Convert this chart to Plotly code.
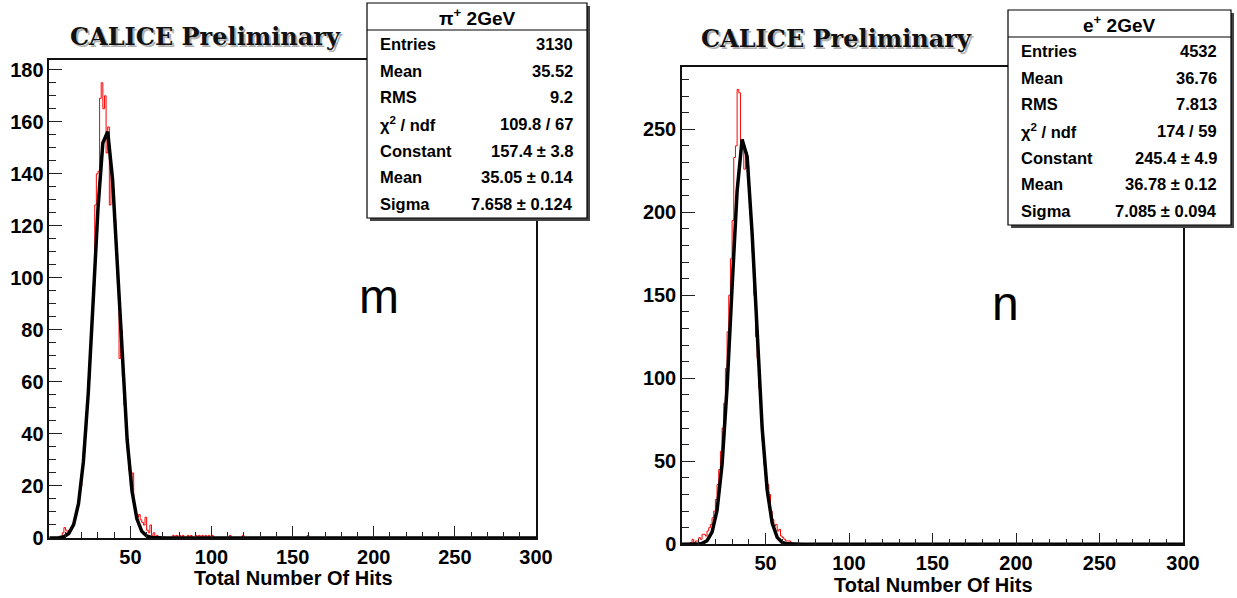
import numpy as np
import plotly.graph_objects as go

W, H = 1237, 598

# ---- histogram contents: total number of hits, 1-hit bins from 0 to 300 ----
N_BINS = 300
# pi+ 2 GeV: bin contents for bins 0..66
pion_core = [0, 0, 0, 0, 0, 0, 0, 0, 2, 4,
             3, 2, 3, 4, 5, 7, 9, 12, 16, 20,
             26, 33, 41, 50, 61, 72, 84, 97, 128, 140,
             141, 169, 175, 165, 170, 148, 158, 128, 142, 133,
             122, 110, 98, 69, 80, 62, 51, 42, 34, 26,
             20, 25, 12, 9, 8, 9, 7, 6, 5, 8,
             3, 2, 5, 1, 2, 0, 1]
# isolated single-entry bins in the pion tail
pion_tail_bins = [76, 78, 80, 82, 85, 87, 90, 92, 94, 96, 98, 100, 111, 119, 159]

# e+ 2 GeV: bin contents for bins 0..65
positron_core = [0, 0, 0, 0, 0, 1, 3, 1, 2, 2,
                 4, 3, 6, 6, 5, 8, 10, 12, 16, 20,
                 27, 36, 45, 56, 70, 85, 106, 128, 150, 172,
                 195, 233, 240, 274, 272, 240, 238, 226, 236, 228,
                 212, 196, 176, 150, 125, 112, 94, 77, 62, 48,
                 38, 36, 30, 20, 15, 11, 12, 8, 9, 5,
                 4, 3, 2, 2, 2, 1]

# Gaussian fit results (Constant, Mean, Sigma)
pion_fit = (157.4, 35.05, 7.658)
positron_fit = (245.4, 36.78, 7.085)

# statistics boxes
pion_title = "π<sup>+</sup> 2GeV"
pion_stats = [("Entries", "3130"), ("Mean", "35.52"), ("RMS", "9.2"),
              ("χ<sup>2</sup> / ndf", "109.8 / 67"), ("Constant", "157.4 ± 3.8"),
              ("Mean", "35.05 ± 0.14"), ("Sigma", "7.658 ± 0.124")]
positron_title = "e<sup>+</sup> 2GeV"
positron_stats = [("Entries", "4532"), ("Mean", "36.76"), ("RMS", "7.813"),
                  ("χ<sup>2</sup> / ndf", "174 / 59"), ("Constant", "245.4 ± 4.9"),
                  ("Mean", "36.78 ± 0.12"), ("Sigma", "7.085 ± 0.094")]

x_major = [50, 100, 150, 200, 250, 300]
x_title = "Total Number Of Hits"
banner = "CALICE Preliminary"


def full_hist(core, singles=()):
    c = np.zeros(N_BINS)
    c[:len(core)] = core
    for b in singles:
        c[b] += 1
    return c


def gauss(x, p):
    const, mean, sigma = p
    return const * np.exp(-0.5 * ((x - mean) / sigma) ** 2)


def px(x):
    return x / W


def py(y):
    return 1 - y / H


pion = full_hist(pion_core, pion_tail_bins)
positron = full_hist(positron_core)
edges = np.arange(N_BINS + 1)
xfit = np.linspace(0, 300, 101)

fig = go.Figure()
for counts, fitp, xa, ya in [(pion, pion_fit, "x", "y"), (positron, positron_fit, "x2", "y2")]:
    fig.add_trace(go.Scatter(x=edges, y=np.append(counts, counts[-1]), mode="lines",
                             line=dict(color="#ff0000", width=1, shape="hv"),
                             xaxis=xa, yaxis=ya, showlegend=False, hoverinfo="skip"))
    fig.add_trace(go.Scatter(x=xfit, y=gauss(xfit, fitp), mode="lines",
                             line=dict(color="black", width=3.5),
                             xaxis=xa, yaxis=ya, showlegend=False, hoverinfo="skip"))

tickfont = dict(family="Liberation Sans", size=20, color="black", weight="bold")


def xaxis_cfg(x0, x1, anchor):
    return dict(domain=[px(x0), px(x1)], range=[0, 300], anchor=anchor, automargin=False,
                showline=True, mirror=True, linecolor="#111", linewidth=1.5,
                ticks="inside", ticklen=12, tickwidth=1, tickcolor="#222",
                tickmode="array", tickvals=x_major, ticktext=[str(v) for v in x_major],
                tickfont=tickfont, showgrid=False, zeroline=False,
                minor=dict(tickmode="array",
                           tickvals=[v for v in range(10, 300, 10) if v % 50],
                           ticks="inside", ticklen=6, tickwidth=1, tickcolor="#222",
                           showgrid=False))


def yaxis_cfg(y0, y1, anchor, ymax, major, minor):
    return dict(domain=[py(y1), py(y0)], range=[0, ymax], anchor=anchor, automargin=False,
                showline=True, mirror=True, linecolor="#111", linewidth=1.5,
                ticks="inside", ticklen=13, tickwidth=1, tickcolor="#222",
                tickmode="array", tickvals=list(range(0, int(ymax) + 1, major)),
                tickfont=tickfont, showgrid=False, zeroline=False,
                minor=dict(tickmode="array",
                           tickvals=[v for v in range(minor, int(ymax) + 1, minor) if v % major],
                           ticks="inside", ticklen=7, tickwidth=1, tickcolor="#222",
                           showgrid=False))


fig.update_layout(
    width=W, height=H, margin=dict(l=0, r=0, t=0, b=0, pad=0),
    paper_bgcolor="white", plot_bgcolor="white",
    xaxis=xaxis_cfg(49.3, 536, "y"),
    yaxis=yaxis_cfg(60, 538, "x", pion.max() * 1.05, 20, 5),
    xaxis2=xaxis_cfg(682, 1183, "y2"),
    yaxis2=yaxis_cfg(66.7, 544.3, "x2", positron.max() * 1.05, 50, 10),
)

shapes = []
annotations = []


def stat_box(x0, x1, y0, y1, ysep, title, ytitle, rows, yrow0, yrow1):
    shapes.append(dict(type="rect", xref="paper", yref="paper",
                       x0=px(x0 + 3), x1=px(x1 + 3), y0=py(y1 + 3), y1=py(y0 + 3),
                       fillcolor="#444", line=dict(width=0)))
    shapes.append(dict(type="rect", xref="paper", yref="paper",
                       x0=px(x0), x1=px(x1), y0=py(y1), y1=py(y0),
                       fillcolor="white", line=dict(color="black", width=1.2)))
    shapes.append(dict(type="line", xref="paper", yref="paper",
                       x0=px(x0), x1=px(x1), y0=py(ysep), y1=py(ysep),
                       line=dict(color="black", width=1.2)))
    font = dict(family="Liberation Sans", size=16.5, color="black")
    annotations.append(dict(text="<b>" + title + "</b>", x=px((x0 + x1) / 2), y=py(ytitle),
                            xref="paper", yref="paper", showarrow=False,
                            xanchor="center", yanchor="middle",
                            font=dict(family="Liberation Sans", size=19, color="black")))
    step = (yrow1 - yrow0) / (len(rows) - 1)
    for i, (lab, val) in enumerate(rows):
        yy = py(yrow0 + i * step)
        annotations.append(dict(text="<b>" + lab + "</b>", x=px(x0 + 11), y=yy,
                                xref="paper", yref="paper", showarrow=False,
                                xanchor="left", yanchor="middle", font=font))
        annotations.append(dict(text="<b>" + val + "</b>", x=px(x1 - 12), y=yy,
                                xref="paper", yref="paper", showarrow=False,
                                xanchor="right", yanchor="middle", font=font))


stat_box(367, 587, 3, 218, 30, pion_title, 17, pion_stats, 44, 204)
stat_box(1008, 1231, 10, 225, 37, positron_title, 24, positron_stats, 51, 211)

# banner text with a soft drop shadow
for cx, cy in [(205, 37), (836, 39)]:
    for dx, dy, col in [(2, 2, "#b0b0b0"), (0, 0, "#111")]:
        annotations.append(dict(text="<b>" + banner + "</b>", x=px(cx + dx), y=py(cy + dy),
                                xref="paper", yref="paper", showarrow=False,
                                xanchor="center", yanchor="middle",
                                font=dict(family="DejaVu Serif", size=24, color=col)))

# panel letters
for letter, cx, cy in [("m", 379, 296), ("n", 1005, 303)]:
    annotations.append(dict(text=letter, x=px(cx), y=py(cy), xref="paper", yref="paper",
                            showarrow=False, xanchor="center", yanchor="middle",
                            font=dict(family="Liberation Sans", size=48, color="black")))

# x-axis titles
for cx, cy in [(293, 578), (933, 585)]:
    annotations.append(dict(text="<b>" + x_title + "</b>", x=px(cx), y=py(cy),
                            xref="paper", yref="paper", showarrow=False,
                            xanchor="center", yanchor="middle",
                            font=dict(family="Liberation Sans", size=20, color="black")))

fig.update_layout(shapes=shapes, annotations=annotations)
fig.write_html(
    "out.html",
    config={"displayModeBar": False},
    post_script=("document.body.style.margin='0';"
                 "document.body.style.overflow='hidden';"
                 "document.documentElement.style.overflow='hidden';"),
)
